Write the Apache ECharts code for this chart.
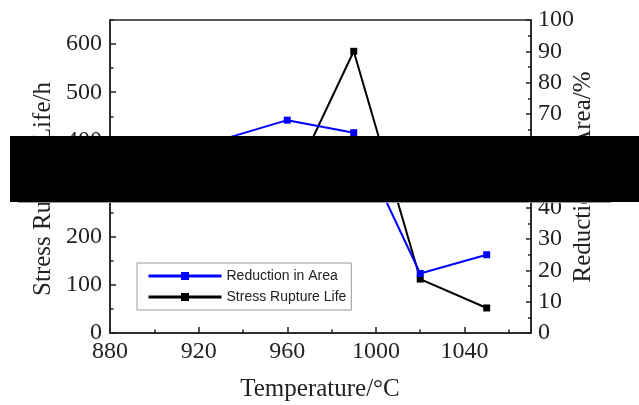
<!DOCTYPE html>
<html>
<head>
<meta charset="utf-8">
<script src="https://cdn.jsdelivr.net/npm/echarts@6/dist/echarts.min.js"></script>
<style>
  html, body { margin: 0; padding: 0; background: #fff; }
  #chart { width: 639px; height: 405px; }
</style>
</head>
<body>
<div id="chart"></div>
<script>
// Heat-treatment temperature (°C)
const temperatures = [930, 960, 990, 1020, 1050];
// Stress rupture life (h), left axis
const ruptureLife = [330, 293, 585, 112, 52];
// Reduction in area (%), right axis
const reductionArea = [61.7, 68, 64, 19, 25];

const serifFont = '"Liberation Serif", "Times New Roman", serif';
const axisColor = '#222';

function pairs(xs, ys) {
  return xs.map((x, i) => [x, ys[i]]);
}

const plainNumber = v => String(v);

const chart = echarts.init(document.getElementById('chart'));

chart.setOption({
  animation: false,
  grid: {
    left: 110, right: 108, top: 20, bottom: 72,
    show: true, borderColor: axisColor, borderWidth: 1.5,
    backgroundColor: 'transparent'
  },
  legend: {
    orient: 'vertical',
    left: 137, top: 263,
    padding: [6, 5, 6, 10],
    borderColor: '#999', borderWidth: 1,
    itemWidth: 73, itemHeight: 10, itemGap: 7, itemTextGap: 16,
    textStyle: { fontFamily: '"Liberation Sans", Arial, sans-serif', fontSize: 14, lineHeight: 14, color: '#222' },
    lineStyle: { width: 3 },
    data: ['Reduction in Area', 'Stress Rupture Life']
  },
  xAxis: [
    {
      type: 'value', min: 880, max: 1070, interval: 40, position: 'bottom',
      axisLine: { show: true, lineStyle: { color: axisColor, width: 1.5 } },
      axisTick: { show: true, inside: true, length: 6, lineStyle: { color: axisColor, width: 1.5 } },
      axisLabel: { margin: 7, fontFamily: serifFont, fontSize: 24, color: axisColor, showMaxLabel: false, formatter: plainNumber },
      splitLine: { show: false }
    },
    {
      type: 'value', min: 880, max: 1070, interval: 20, position: 'bottom',
      axisLine: { show: false },
      axisTick: { show: true, inside: true, length: 3.5, lineStyle: { color: axisColor, width: 1.5 } },
      axisLabel: { show: false },
      splitLine: { show: false }
    }
  ],
  yAxis: [
    {
      type: 'value', min: 0, max: 650, interval: 100, position: 'left',
      axisLine: { show: true, lineStyle: { color: axisColor, width: 1.5 } },
      axisTick: { show: true, inside: true, length: 6, lineStyle: { color: axisColor, width: 1.5 } },
      axisLabel: { margin: 8, fontFamily: serifFont, fontSize: 24, color: axisColor, showMaxLabel: false, formatter: plainNumber },
      splitLine: { show: false }
    },
    {
      type: 'value', min: 0, max: 650, interval: 50, position: 'left',
      axisLine: { show: false },
      axisTick: { show: true, inside: true, length: 3.5, lineStyle: { color: axisColor, width: 1.5 } },
      axisLabel: { show: false },
      splitLine: { show: false }
    },
    {
      type: 'value', min: 0, max: 100, interval: 10, position: 'right',
      axisLine: { show: true, lineStyle: { color: axisColor, width: 1.5 } },
      axisTick: { show: true, inside: true, length: 5, lineStyle: { color: axisColor, width: 1.5 } },
      minorTick: { show: true, splitNumber: 2, length: 3, lineStyle: { color: axisColor, width: 1.5 } },
      axisLabel: { margin: 7, fontFamily: serifFont, fontSize: 24, color: axisColor, formatter: plainNumber },
      splitLine: { show: false }
    }
  ],
  series: [
    {
      name: 'Stress Rupture Life', type: 'line',
      xAxisIndex: 0, yAxisIndex: 0,
      data: pairs(temperatures, ruptureLife),
      symbol: 'rect', symbolSize: 7,
      lineStyle: { color: '#000', width: 2 },
      itemStyle: { color: '#000' }
    },
    {
      name: 'Reduction in Area', type: 'line',
      xAxisIndex: 0, yAxisIndex: 2,
      data: pairs(temperatures, reductionArea),
      symbol: 'rect', symbolSize: 7,
      lineStyle: { color: '#0000ff', width: 2 },
      itemStyle: { color: '#0000ff' }
    }
  ],
  graphic: [
    {
      type: 'text', z: 50,
      x: 320, y: 389,
      style: { text: 'Temperature/°C', font: '25px ' + serifFont, fill: axisColor, align: 'center', verticalAlign: 'middle' }
    },
    {
      type: 'text', z: 50,
      x: 43, y: 189, rotation: Math.PI / 2,
      style: { text: 'Stress Rupture Life/h', font: '25px ' + serifFont, fill: axisColor, align: 'center', verticalAlign: 'middle' }
    },
    {
      type: 'text', z: 50,
      x: 583, y: 177, rotation: Math.PI / 2,
      style: { text: 'Reduction in Area/%', font: '25px ' + serifFont, fill: axisColor, align: 'center', verticalAlign: 'middle' }
    },
    {
      type: 'line', z: 100,
      shape: { x1: 18, y1: 202.5, x2: 611, y2: 202.5 },
      style: { stroke: '#999', lineWidth: 1 }
    },
    {
      type: 'rect', z: 101,
      shape: { x: 10, y: 136, width: 629, height: 66 },
      style: { fill: '#000' }
    }
  ]
});
</script>
</body>
</html>
